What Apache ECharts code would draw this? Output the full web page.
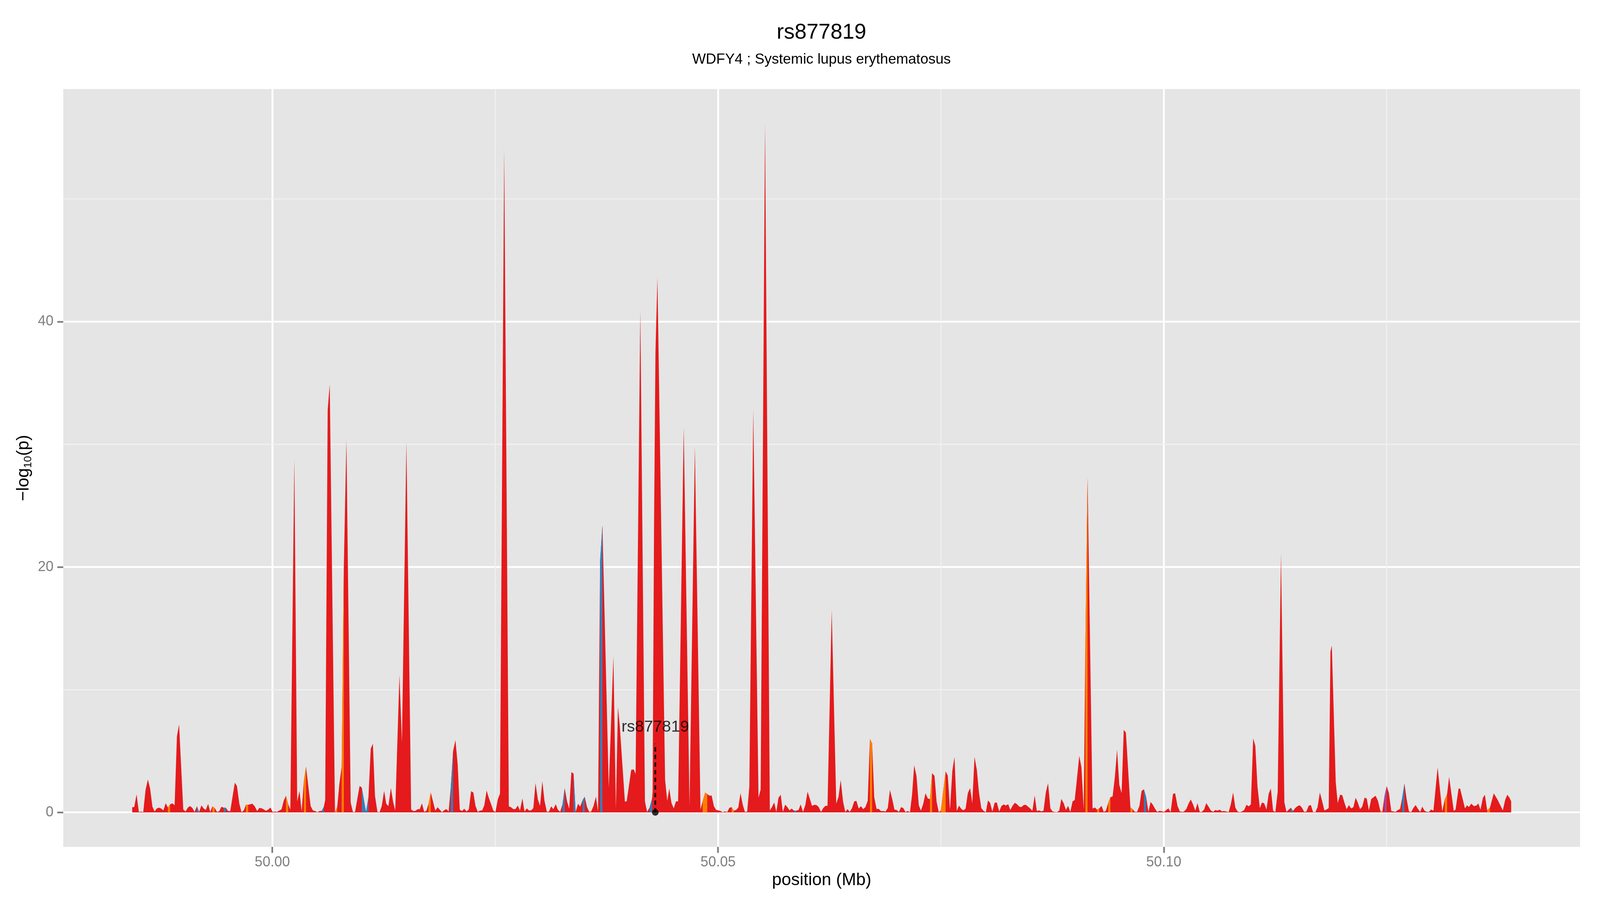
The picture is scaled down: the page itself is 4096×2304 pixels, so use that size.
<!DOCTYPE html>
<html><head><meta charset="utf-8">
<script src="https://cdn.jsdelivr.net/npm/echarts@6/dist/echarts.min.js"></script>
<style>html,body{margin:0;padding:0;background:#fff}#c{width:4096px;height:2304px}</style>
</head><body><div id="c"></div><script>
const TITLE = 'rs877819';
const SUBTITLE = 'WDFY4 ; Systemic lupus erythematosus';
const X_NAME = 'position (Mb)';
const X_TICKS = [50000, 50050, 50100];          // kb
const X_MINOR = [50025, 50075, 50125];
const Y_TICKS = [0, 20, 40];
const Y_MINOR = [10, 30, 50];
const X_RANGE = [49976.55, 50146.70];
const Y_RANGE = [-2.81, 58.96];

// [position (kb), -log10(p)]
const SNPS = [
[49984.28,0.42],[49984.51,0.44],[49984.77,1.47],[49985.03,0.04],[49985.26,0.06],[49985.52,0.03],[49985.78,1.83],[49986.04,2.68],[49986.29,1.94],[49986.55,0.47],
[49986.79,0.08],[49987.05,0.33],[49987.30,0.39],[49987.54,0.31],[49987.78,0.17],[49988.04,0.75],[49988.29,0.40],[49988.53,0.65],[49988.79,0.74],[49989.04,0.58],
[49989.30,6.19],[49989.54,7.17],[49990.01,0.24],[49990.27,0.07],[49990.53,0.40],[49990.78,0.52],[49991.04,0.35],[49991.28,0.04],[49991.54,0.50],[49991.79,0.04],
[49992.05,0.57],[49992.29,0.33],[49992.53,0.20],[49992.80,0.69],[49993.04,0.04],[49993.28,0.49],[49993.53,0.37],[49993.79,0.05],[49994.03,0.09],[49994.29,0.46],
[49994.54,0.38],[49994.78,0.38],[49995.04,0.11],[49995.28,0.10],[49995.79,2.42],[49996.03,2.16],[49996.30,0.71],[49996.54,0.02],[49996.80,0.17],[49997.04,0.62],
[49997.29,0.62],[49997.53,0.67],[49997.77,0.71],[49998.03,0.49],[49998.30,0.11],[49998.54,0.37],[49998.78,0.34],[49999.05,0.24],[49999.29,0.13],[49999.55,0.24],
[49999.79,0.40],[50000.04,0.04],[50000.30,0.07],[50000.54,0.05],[50000.79,0.16],[50001.03,0.25],[50001.29,0.97],[50001.53,1.35],[50001.78,0.67],[50002.02,0.22],
[50002.47,28.8],[50002.79,0.90],[50003.05,1.74],[50003.29,0.07],[50003.54,2.57],[50003.78,3.73],[50004.30,0.51],[50004.55,0.17],[50004.79,0.11],[50005.05,0.02],
[50005.30,0.11],[50005.54,0.13],[50005.78,0.46],[50005.93,1.00],[50006.21,32.8],[50006.44,34.9],[50007.03,0.02],[50007.28,0.44],[50007.52,2.30],[50007.78,3.75],
[50008.02,20.0],[50008.31,30.4],[50008.79,0.80],[50009.04,0.04],[50009.28,0.05],[50009.79,2.16],[50010.03,2.03],[50010.51,0.04],[50010.78,1.21],[50011.04,5.19],
[50011.28,5.60],[50011.52,1.34],[50011.79,0.05],[50012.03,0.02],[50012.27,0.51],[50012.54,1.76],[50012.78,0.70],[50013.02,0.51],[50013.30,2.00],[50013.55,0.85],
[50013.79,0.17],[50014.26,11.2],[50014.54,5.70],[50015.04,30.2],[50015.57,0.25],[50015.81,0.11],[50016.05,0.13],[50016.31,0.26],[50016.54,0.26],[50016.78,0.74],
[50017.04,0.05],[50017.29,0.14],[50017.53,0.71],[50017.77,1.62],[50018.04,0.85],[50018.28,0.14],[50018.54,0.42],[50018.78,0.22],[50019.03,0.02],[50019.29,0.18],
[50019.53,0.27],[50019.78,0.07],[50020.02,2.07],[50020.28,5.01],[50020.54,5.89],[50020.79,3.93],[50021.03,0.22],[50021.29,0.11],[50021.53,0.30],[50021.78,0.08],
[50022.04,0.24],[50022.30,1.73],[50022.55,1.62],[50022.79,0.53],[50023.05,0.04],[50023.29,0.14],[50023.54,0.17],[50023.78,0.58],[50024.04,1.78],[50024.28,1.19],
[50024.55,0.65],[50024.79,0.14],[50025.03,0.02],[50025.30,1.08],[50025.54,1.53],[50026.01,54.0],[50026.53,0.49],[50026.77,0.42],[50027.04,0.26],[50027.28,0.28],
[50027.54,0.56],[50027.78,0.14],[50028.05,1.14],[50028.29,0.07],[50028.55,0.33],[50028.79,0.16],[50029.04,0.17],[50029.28,0.35],[50029.52,2.39],[50029.79,1.05],
[50030.03,0.53],[50030.29,2.55],[50030.53,0.94],[50030.80,0.04],[50031.04,0.08],[50031.28,0.49],[50031.53,0.26],[50031.79,0.67],[50032.03,0.22],[50032.29,0.05],
[50032.55,0.65],[50032.80,1.98],[50033.06,0.90],[50033.30,0.31],[50033.55,3.29],[50033.79,3.16],[50034.03,0.04],[50034.29,0.70],[50034.54,0.47],[50034.80,0.99],
[50035.04,1.28],[50035.30,0.44],[50035.55,0.05],[50035.79,0.11],[50036.03,0.52],[50036.30,1.28],[50036.54,0.07],[50036.77,20.5],[50037.03,23.4],[50037.74,2.00],
[50038.26,12.74],[50038.54,0.31],[50038.77,8.59],[50038.97,7.11],[50039.55,0.88],[50039.75,0.90],[50040.26,3.47],[50040.55,3.50],[50040.75,3.13],[50041.28,40.9],
[50041.80,0.90],[50042.04,0.04],[50042.32,0.40],[50042.60,1.12],[50042.66,1.76],[50042.82,23.4],[50042.98,37.5],[50043.20,43.6],[50044.06,2.66],[50044.30,0.94],
[50044.53,1.95],[50044.77,0.78],[50045.03,0.33],[50045.28,0.90],[50045.52,0.90],[50046.15,31.4],[50046.80,0.53],[50047.40,29.8],[50048.03,0.24],[50048.27,0.90],
[50048.55,1.62],[50048.79,1.50],[50049.04,1.36],[50049.28,1.38],[50049.54,0.49],[50049.79,0.20],[50050.03,0.17],[50050.29,0.11],[50050.53,0.02],[50050.78,0.09],
[50051.02,0.02],[50051.28,0.38],[50051.53,0.42],[50051.77,0.14],[50052.03,0.20],[50052.27,0.40],[50052.52,1.57],[50052.78,0.60],[50053.02,0.04],[50053.27,0.07],
[50053.51,2.12],[50053.95,32.8],[50054.54,1.21],[50054.78,1.86],[50055.27,56.15],[50055.81,0.17],[50056.05,0.44],[50056.30,0.81],[50056.54,0.04],[50056.78,1.19],
[50057.03,1.44],[50057.27,0.04],[50057.53,0.64],[50057.77,0.44],[50058.02,0.17],[50058.26,0.31],[50058.52,0.14],[50058.77,0.14],[50059.03,0.20],[50059.27,0.65],
[50059.53,0.04],[50059.79,0.60],[50060.04,1.69],[50060.30,1.10],[50060.54,0.53],[50060.81,0.62],[50061.05,0.60],[50061.29,0.44],[50061.55,0.04],[50061.80,0.35],
[50062.04,0.53],[50062.28,0.53],[50062.75,16.5],[50063.26,0.71],[50063.52,1.30],[50063.76,2.64],[50064.02,0.90],[50064.27,0.04],[50064.53,0.26],[50064.77,0.04],
[50065.03,0.35],[50065.28,0.90],[50065.52,0.94],[50065.78,0.31],[50066.03,0.51],[50066.29,0.26],[50066.53,0.44],[50066.79,0.94],[50067.04,5.99],[50067.28,5.63],
[50067.52,1.23],[50067.78,0.29],[50068.03,0.28],[50068.29,0.10],[50068.53,0.11],[50068.78,0.07],[50069.04,0.35],[50069.28,1.83],[50069.54,1.08],[50069.79,0.22],
[50070.03,0.20],[50070.29,0.04],[50070.53,0.43],[50070.78,0.35],[50071.02,0.04],[50071.28,0.11],[50071.53,0.02],[50071.77,1.48],[50072.00,3.84],[50072.26,2.98],
[50072.52,0.58],[50072.76,0.14],[50073.02,0.71],[50073.27,1.56],[50073.53,1.14],[50073.77,1.08],[50074.01,3.20],[50074.28,2.98],[50074.52,0.85],[50074.76,0.02],
[50074.99,0.14],[50075.53,3.34],[50075.77,3.00],[50076.02,0.22],[50076.28,3.37],[50076.52,4.52],[50076.78,0.13],[50077.03,0.55],[50077.29,0.29],[50077.53,0.17],
[50077.77,0.31],[50078.02,1.57],[50078.28,1.98],[50078.52,0.74],[50078.77,4.53],[50079.03,3.46],[50079.27,1.62],[50079.53,0.35],[50079.78,0.13],[50080.04,0.02],
[50080.28,0.97],[50080.52,0.78],[50080.77,0.07],[50081.03,0.79],[50081.27,0.81],[50081.54,0.07],[50081.78,0.51],[50082.04,0.65],[50082.28,0.56],[50082.55,0.67],
[50082.79,0.20],[50083.03,0.53],[50083.29,0.78],[50083.54,0.67],[50083.80,0.46],[50084.04,0.44],[50084.29,0.60],[50084.53,0.62],[50084.77,0.47],[50085.01,0.33],
[50085.26,0.13],[50085.52,1.38],[50085.76,0.11],[50086.03,0.17],[50086.27,0.08],[50086.51,0.14],[50086.77,1.62],[50087.02,2.39],[50087.28,0.33],[50087.52,0.08],
[50087.77,0.04],[50088.01,0.02],[50088.27,0.14],[50088.51,1.10],[50088.78,0.74],[50089.02,0.20],[50089.26,0.53],[50089.52,0.04],[50089.77,0.90],[50090.01,1.01],
[50090.27,2.80],[50090.52,4.61],[50090.76,3.70],[50091.02,0.24],[50091.21,14.0],[50091.45,27.3],[50092.01,0.31],[50092.27,0.40],[50092.52,0.22],[50092.76,0.33],
[50093.02,0.53],[50093.27,0.04],[50093.51,0.14],[50093.77,0.78],[50094.01,1.23],[50094.26,1.30],[50094.52,2.93],[50094.76,5.12],[50095.01,2.25],[50095.27,1.57],
[50095.51,6.73],[50095.75,6.51],[50096.26,0.40],[50096.50,0.26],[50096.76,0.05],[50097.01,0.05],[50097.27,0.53],[50097.51,1.74],[50097.77,1.89],[50098.02,1.26],
[50098.28,0.04],[50098.52,0.85],[50098.78,0.62],[50099.03,0.28],[50099.27,0.04],[50099.53,0.13],[50099.80,0.09],[50100.04,0.04],[50100.28,0.20],[50100.52,0.33],
[50100.77,0.02],[50101.03,1.50],[50101.27,1.57],[50101.55,0.51],[50101.80,0.08],[50102.04,0.05],[50102.26,0.06],[50102.53,0.28],[50102.79,0.74],[50103.03,1.05],
[50103.27,0.67],[50103.54,0.14],[50103.78,0.76],[50104.04,0.04],[50104.28,0.05],[50104.53,0.25],[50104.77,0.76],[50105.03,0.46],[50105.28,0.16],[50105.54,0.05],
[50105.78,0.20],[50106.02,0.14],[50106.27,0.22],[50106.53,0.09],[50106.77,0.11],[50107.03,0.07],[50107.28,0.03],[50107.52,0.65],[50107.78,1.62],[50108.03,0.38],
[50108.29,0.07],[50108.53,0.02],[50108.77,0.07],[50109.02,0.20],[50109.28,0.62],[50109.52,0.49],[50109.77,0.65],[50110.03,6.03],[50110.27,5.43],[50110.51,2.12],
[50110.78,0.35],[50111.02,0.81],[50111.26,0.74],[50111.52,0.24],[50111.77,1.53],[50112.01,1.94],[50112.27,0.13],[50112.52,0.04],[50112.78,1.67],[50113.15,21.1],
[50113.53,0.81],[50113.77,0.04],[50114.01,0.22],[50114.26,0.38],[50114.50,0.11],[50114.74,0.35],[50115.00,0.51],[50115.25,0.58],[50115.49,0.40],[50115.75,0.05],
[50116.00,0.07],[50116.26,0.55],[50116.50,0.60],[50116.74,0.04],[50117.01,0.02],[50117.25,0.42],[50117.51,1.62],[50117.76,0.94],[50118.02,0.16],[50118.26,0.24],
[50118.50,0.35],[50118.70,13.1],[50118.85,13.6],[50119.29,2.48],[50119.51,0.76],[50119.78,1.44],[50120.02,1.41],[50120.26,0.81],[50120.51,0.26],[50120.77,0.60],
[50121.01,0.33],[50121.27,0.42],[50121.52,1.19],[50121.76,0.81],[50122.02,0.26],[50122.26,0.47],[50122.53,1.21],[50122.77,1.12],[50123.01,0.17],[50123.27,1.08],
[50123.52,1.23],[50123.76,1.35],[50124.02,0.96],[50124.27,0.20],[50124.51,0.02],[50124.77,1.35],[50125.01,2.14],[50125.26,1.56],[50125.52,0.11],[50125.76,0.08],
[50126.01,0.05],[50126.27,0.20],[50126.51,0.29],[50126.75,1.21],[50127.00,2.36],[50127.24,1.10],[50127.50,0.09],[50127.75,0.02],[50127.99,0.35],[50128.25,0.60],
[50128.49,0.31],[50128.76,0.04],[50129.00,0.47],[50129.24,0.14],[50129.49,0.05],[50129.75,0.04],[50129.99,0.24],[50130.25,0.14],[50130.72,3.66],[50131.24,0.08],
[50131.53,1.08],[50131.78,1.48],[50132.01,2.90],[50132.53,0.13],[50132.73,0.22],[50133.07,1.94],[50133.24,1.94],[50133.79,0.33],[50134.02,0.58],[50134.22,0.44],
[50134.50,0.71],[50134.79,0.51],[50135.08,0.56],[50135.28,0.73],[50135.53,0.22],[50135.79,1.17],[50136.02,1.44],[50136.28,0.17],[50136.59,0.40],[50137.02,1.55],
[50137.45,1.03],[50138.03,0.17],[50138.31,1.05],[50138.54,1.44],[50138.80,1.17],[50138.97,0.90]
];

// SNPs (kb) whose interval to the next SNP is filled in another colour
const ORANGE_SNPS = [49988.29,49993.28,49997.04,50001.53,50003.54,50007.03,50007.78,50017.53,50035.55,50048.27,50048.55,50051.53,
  50067.04,50073.77,50074.99,50091.21,50092.52,50093.77,50096.26,50124.27,50131.53,50136.28];
const BLUE_SNPS = [49991.54,49994.54,50005.54,50010.03,50010.51,50020.02,50032.55,50033.79,50034.80,50036.77,50042.32,50058.52,
  50097.77,50114.26,50126.75,50129.49];
const PURPLE_SNPS = [50124.77];

const LEAD = { name: 'rs877819', pos: 50042.96, lineTop: 5.6, labelY: 6.95 };

const RED = '#E41A1C', ORANGE = '#FF7F00', BLUE = '#377EB8', PURPLE = '#984EA3';
const FONT = '"Liberation Sans", Arial, Helvetica, sans-serif';

function segments(starts) {
  const out = [];
  starts.forEach(p => {
    const i = SNPS.findIndex(d => Math.abs(d[0] - p) < 0.005);
    if (i >= 0 && i + 1 < SNPS.length) {
      out.push(SNPS[i], SNPS[i + 1], [SNPS[i + 1][0], null]);
    }
  });
  return out;
}

const series = [];
X_MINOR.forEach(x => series.push({
  type: 'line', data: [[x, Y_RANGE[0]], [x, Y_RANGE[1]]], symbol: 'none', silent: true, z: 1,
  lineStyle: { color: '#F2F2F2', width: 2.4 }
}));
Y_MINOR.forEach(y => series.push({
  type: 'line', data: [[X_RANGE[0], y], [X_RANGE[1], y]], symbol: 'none', silent: true, z: 1,
  lineStyle: { color: '#F2F2F2', width: 2.4 }
}));
series.push({
  type: 'line', data: SNPS, symbol: 'none', showSymbol: false, z: 3,
  lineStyle: { width: 0, opacity: 0 }, areaStyle: { color: RED, opacity: 1 }
});
[[ORANGE_SNPS, ORANGE], [BLUE_SNPS, BLUE], [PURPLE_SNPS, PURPLE]].forEach(([s, c]) => series.push({
  type: 'line', data: segments(s), symbol: 'none', showSymbol: false, z: 4, connectNulls: false,
  lineStyle: { width: 0, opacity: 0 }, areaStyle: { color: c, opacity: 1 }
}));
series.push({
  type: 'line', data: [[LEAD.pos, 0], [LEAD.pos, LEAD.lineTop]], symbol: 'none', z: 5,
  lineStyle: { color: '#000', width: 4.3, type: [11, 8.5] }
});
series.push({
  type: 'scatter', data: [[LEAD.pos, 0]], symbol: 'circle', symbolSize: 17, z: 6,
  itemStyle: { color: '#000' }
});
series.push({
  type: 'scatter', data: [[LEAD.pos, LEAD.labelY]], symbolSize: 0, z: 6,
  label: { show: true, position: 'inside', formatter: LEAD.name, fontSize: 41.5, color: '#000', fontFamily: FONT }
});

const chart = echarts.init(document.getElementById('c'), null, { renderer: 'canvas' });
chart.setOption({
  animation: false,
  backgroundColor: '#FFFFFF',
  title: {
    text: TITLE, subtext: SUBTITLE, left: 2103, top: 56, textAlign: 'center', padding: 0, itemGap: 23,
    textStyle: { fontSize: 55, fontWeight: 'normal', color: '#000', fontFamily: FONT, lineHeight: 55 },
    subtextStyle: { fontSize: 37, color: '#000', fontFamily: FONT, lineHeight: 37 }
  },
  grid: { left: 162, right: 51, top: 228, bottom: 136, show: true, backgroundColor: '#E5E5E5', borderWidth: 0 },
  xAxis: {
    type: 'value', min: X_RANGE[0], max: X_RANGE[1],
    axisLine: { show: false, onZero: false },
    axisTick: { show: true, customValues: X_TICKS, length: 15.4, lineStyle: { color: '#7F7F7F', width: 4.3 } },
    axisLabel: { customValues: X_TICKS, formatter: v => (v / 1000).toFixed(2), color: '#7F7F7F', fontSize: 36, margin: 22, fontFamily: FONT },
    splitLine: { show: true, lineStyle: { color: '#FFFFFF', width: 4.7 } },
    name: X_NAME, nameLocation: 'middle', nameGap: 64,
    nameTextStyle: { fontSize: 44, color: '#000', fontFamily: FONT }
  },
  yAxis: {
    type: 'value', min: Y_RANGE[0], max: Y_RANGE[1],
    axisLine: { show: false, onZero: false },
    axisTick: { show: true, customValues: Y_TICKS, length: 15.4, lineStyle: { color: '#7F7F7F', width: 4.3 } },
    axisLabel: { customValues: Y_TICKS, color: '#7F7F7F', fontSize: 36, margin: 25, fontFamily: FONT },
    splitLine: { show: true, lineStyle: { color: '#FFFFFF', width: 4.7 } },
    name: '{a|\u2212log}{s|10}{a|(p)}', nameLocation: 'middle', nameRotate: 90, nameGap: 75,
    nameTextStyle: {
      color: '#000', fontFamily: FONT,
      rich: {
        a: { fontSize: 44, lineHeight: 50, color: '#000', fontFamily: FONT },
        s: { fontSize: 28, lineHeight: 26, verticalAlign: 'bottom', color: '#000', fontFamily: FONT }
      }
    }
  },
  series: series
});
</script></body></html>
